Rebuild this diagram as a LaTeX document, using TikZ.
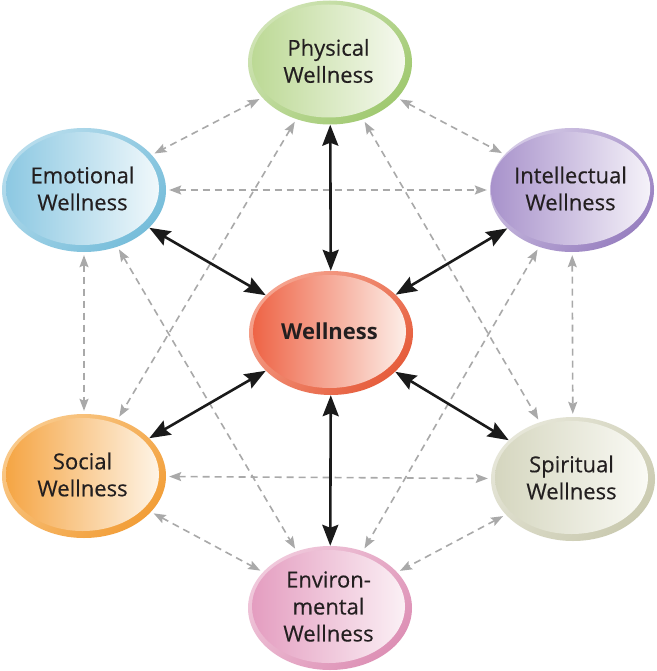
\documentclass[tikz,border=0pt]{standalone}
\usepackage{fontspec}
\setmainfont{Open Sans}
\newfontfamily\labelfont[FakeBold=0.4]{Open Sans}
\usetikzlibrary{arrows.meta,shapes.geometric}
\definecolor{txt}{HTML}{231F20}
\definecolor{dgray}{HTML}{A9A9A9}
\definecolor{blk}{HTML}{1A1A1A}
\newcommand{\wellnode}[7]{%
  \definecolor{rl#1}{HTML}{#3}\definecolor{rd#1}{HTML}{#4}%
  \definecolor{fl#1}{HTML}{#5}\definecolor{fr#1}{HTML}{#6}%
  \node[ringshape, top color=rl#1, bottom color=rd#1, shading angle=45] (#1) at #2 {};
  \node[innershape, left color=fl#1, right color=fr#1] at ([shift={(-1.5,-1.5)}]#1.center) {#7};
}
\begin{document}
\begin{tikzpicture}[x=1pt,y=-1pt,
  ringshape/.style={ellipse, inner sep=0pt, minimum width=164pt, minimum height=124pt},
  innershape/.style={ellipse, inner sep=0pt, minimum width=153pt, minimum height=113pt,
     align=center, text=txt, font=\labelfont\fontsize{22}{27}\selectfont},
  bigarrow/.style={{Stealth[length=21pt,width=16pt,inset=3pt]}-{Stealth[length=21pt,width=16pt,inset=3pt]},
     line width=2.6pt, blk},
  dasharrow/.style={{Stealth[length=12pt,width=9pt,inset=2pt]}-{Stealth[length=12pt,width=9pt,inset=2pt]},
     line width=1.6pt, dgray, dash pattern=on 7pt off 5pt, shorten <=3pt, shorten >=3pt}
]
\useasboundingbox (0,0) rectangle (656,671);
\fill[white] (0,0) rectangle (656,671);

\wellnode{phy}{(330,62.5)}{CFE3B4}{A0C970}{BCD995}{F6F9EF}{Physical\\Wellness}
\wellnode{emo}{(84,190)}{B6DCEC}{76BDDA}{8CC8E2}{F0F8FB}{Emotional\\Wellness}
\wellnode{int}{(572,190)}{D3C8E5}{9880C0}{A892CB}{F5F2F9}{Intellectual\\Wellness}
\wellnode{wel}{(331,333)}{F5A38E}{E65D3C}{EE6446}{FDEEE8}{\normalfont\fontsize{22}{27}\selectfont\bfseries Wellness}
\wellnode{soc}{(84,476)}{F9C98A}{F29E38}{F5A544}{FEF4E6}{Social\\Wellness}
\wellnode{spi}{(573,479)}{E6E6D8}{CACAB0}{D5D6BF}{FAFAF5}{Spiritual\\Wellness}
\wellnode{env}{(330,608)}{F0C8DB}{DD90B5}{E49DC0}{FBF0F5}{Environ-\\mental\\Wellness}

% dashed connections
\draw[dasharrow] (phy) -- (emo);
\draw[dasharrow] (phy) -- (int);
\draw[dasharrow] (emo) -- (int);
\draw[dasharrow] (emo) -- (soc);
\draw[dasharrow] (int) -- (spi);
\draw[dasharrow] (soc) -- (spi);
\draw[dasharrow] (soc) -- (env);
\draw[dasharrow] (spi) -- (env);
\draw[dasharrow] (phy) -- (soc);
\draw[dasharrow] (phy) -- (spi);
\draw[dasharrow] (emo) -- (env);
\draw[dasharrow] (int) -- (env);

% black connections
\draw[bigarrow] (phy) -- (wel);
\draw[bigarrow] (emo) -- (wel);
\draw[bigarrow] (int) -- (wel);
\draw[bigarrow] (soc) -- (wel);
\draw[bigarrow] (spi) -- (wel);
\draw[bigarrow] (env) -- (wel);
\end{tikzpicture}
\end{document}
